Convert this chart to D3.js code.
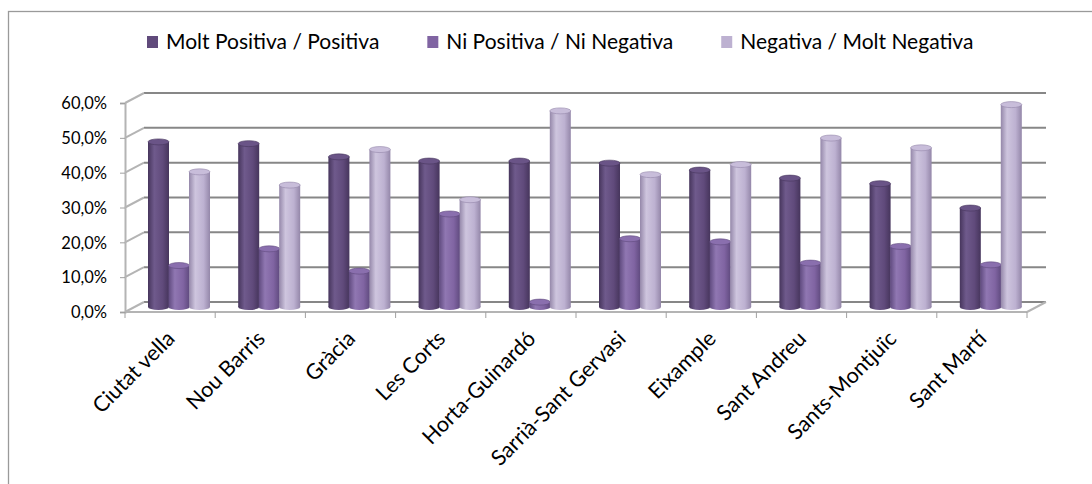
<!DOCTYPE html>
<html lang="ca">
    <head>
        <meta charset="utf-8">
        <style>
            body { margin: 0; background: #fff; }
            text { font-family: Lato, "Noto Sans", sans-serif; fill: #000; }
            .grid { stroke: #878787; stroke-width: 2px; fill: none; }
            .wall { stroke: #b4b4b4; stroke-width: 2px; fill: none; }
        </style>
        <script src="https://d3js.org/d3.v7.min.js"></script>
        <title>Valoracio per districte</title>
    </head>
    <body>
        <div id="chart"></div>
        <script>

            // data (percent)
            var districtes = ["Ciutat vella", "Nou Barris", "Gràcia", "Les Corts", "Horta-Guinardó",
                "Sarrià-Sant Gervasi", "Eixample", "Sant Andreu", "Sants-Montjuïc", "Sant Martí"];
            var series = ["Molt Positiva / Positiva", "Ni Positiva / Ni Negativa", "Negativa / Molt Negativa"];
            var positiva = [47.4, 46.9, 43.1, 41.9, 41.9, 41.3, 39.3, 37.0, 35.4, 28.4];
            var neutra   = [11.9, 16.7, 10.3, 26.7, 1.4, 19.6, 18.7, 12.6, 17.4, 12.1];
            var negativa = [38.8, 35.0, 45.2, 30.8, 56.3, 38.0, 40.9, 48.5, 45.7, 58.1];
            var yTicks = [0, 10, 20, 30, 40, 50, 60];

            var values = [positiva, neutra, negativa];
            var colors = [
                {base: "#604a7b", edge: "#46355c", light: "#6f5a8c", cap: "#6a5487"},
                {base: "#8064a2", edge: "#5f4a7e", light: "#9077b2", cap: "#8a6fae"},
                {base: "#bdb1d1", edge: "#9487a9", light: "#cec5de", cap: "#c8bdda"}
            ];

            var width = 1092, height = 484;
            var left = 125, right = 1027;
            var depthX = 19, depthY = -10;

            var svg = d3.select("#chart")
                .append("svg")
                    .attr("width", width)
                    .attr("height", height);

            // gradients for the cylinders
            var defs = svg.append("defs");
            colors.forEach(function(c, i) {
                var g = defs.append("linearGradient")
                    .attr("id", "cyl" + i)
                    .attr("x1", "0%").attr("x2", "100%")
                    .attr("y1", "0%").attr("y2", "0%");
                g.append("stop").attr("offset", "0%").attr("stop-color", c.edge);
                g.append("stop").attr("offset", "30%").attr("stop-color", c.light);
                g.append("stop").attr("offset", "70%").attr("stop-color", c.base);
                g.append("stop").attr("offset", "100%").attr("stop-color", c.edge);
            });

            // cut-off heading above the frame (only its descender shows)
            svg.append("text")
                .attr("x", 35)
                .attr("y", -4)
                .style("font-size", "20px")
                .text("g");

            // chart frame
            svg.append("rect")
                .attr("x", 8.5)
                .attr("y", 11.5)
                .attr("width", 1200)
                .attr("height", 600)
                .attr("fill", "none")
                .attr("stroke", "#9a9a9a")
                .attr("stroke-width", 1.3);

            var x = d3.scaleBand()
                .domain(districtes)
                .range([left, right]);

            var xSeries = d3.scaleBand()
                .domain(series)
                .range([13.5, 13.5 + 61.5]);

            var y = d3.scaleLinear()
                .domain([0, 60])
                .range([312, 103]);

            // back wall grid lines
            svg.append("g")
                .selectAll("line")
                .data(yTicks)
                .join("line")
                    .attr("class", "grid")
                    .attr("x1", left + depthX)
                    .attr("x2", right + depthX)
                    .attr("y1", function(d) { return y(d) + depthY; })
                    .attr("y2", function(d) { return y(d) + depthY; });

            // side wall diagonals
            svg.append("g")
                .selectAll("line")
                .data(yTicks)
                .join("line")
                    .attr("class", "wall")
                    .attr("x1", left)
                    .attr("x2", left + depthX)
                    .attr("y1", function(d) { return y(d); })
                    .attr("y2", function(d) { return y(d) + depthY; });

            // floor edge on the right
            svg.append("line")
                .attr("class", "wall")
                .attr("x1", right).attr("y1", y(0))
                .attr("x2", right + depthX).attr("y2", y(0) + depthY);

            // y axis
            var yAxis = svg.append("g")
                .attr("transform", "translate(" + left + ",0)")
                .call(d3.axisLeft(y)
                    .tickValues(yTicks)
                    .tickSize(5)
                    .tickPadding(13)
                    .tickFormat(function(d) { return d3.format(".1f")(d).replace(".", ",") + "%"; }));
            yAxis.select(".domain").attr("stroke", "#b4b4b4").attr("stroke-width", 2);
            yAxis.selectAll(".tick line").attr("stroke", "#a0a0a0");
            yAxis.selectAll("text")
                .style("font-size", "16.5px")
                .attr("dy", "0.35em")
                .attr("fill", "#000");

            // x axis
            var xAxis = svg.append("g")
                .attr("transform", "translate(0," + y(0) + ")");
            xAxis.append("line")
                .attr("class", "wall")
                .attr("x1", left).attr("x2", right);
            xAxis.selectAll(".tk")
                .data(d3.range(districtes.length + 1))
                .join("line")
                    .attr("class", "tk")
                    .attr("stroke", "#a0a0a0")
                    .attr("x1", function(i) { return left + i * x.step(); })
                    .attr("x2", function(i) { return left + i * x.step(); })
                    .attr("y1", 0)
                    .attr("y2", 6);
            xAxis.selectAll(".lbl")
                .data(districtes)
                .join("text")
                    .attr("class", "lbl")
                    .attr("text-anchor", "end")
                    .style("font-size", "21.5px")
                    .attr("transform", function(d) {
                        return "translate(" + (x(d) + x.bandwidth() / 2 + 6) + ",28) rotate(-45)";
                    })
                    .text(function(d) { return d; });

            // cylinders
            var ry = 3;
            var barW = 21;
            var bars = svg.append("g")
                .attr("transform", "translate(" + depthX / 2 + "," + depthY / 2 + ")");

            districtes.forEach(function(dist, i) {
                series.forEach(function(s, k) {
                    var v = values[k][i];
                    var bx = x(dist) + xSeries(s);
                    var top = y(v), bottom = y(0);
                    var g = bars.append("g");
                    g.append("ellipse")
                        .attr("cx", bx + barW / 2)
                        .attr("cy", bottom)
                        .attr("rx", barW / 2)
                        .attr("ry", ry)
                        .attr("fill", "url(#cyl" + k + ")");
                    g.append("rect")
                        .attr("x", bx)
                        .attr("y", top)
                        .attr("width", barW)
                        .attr("height", bottom - top)
                        .attr("fill", "url(#cyl" + k + ")");
                    g.append("ellipse")
                        .attr("cx", bx + barW / 2)
                        .attr("cy", top)
                        .attr("rx", barW / 2)
                        .attr("ry", ry)
                        .attr("fill", colors[k].cap)
                        .attr("stroke", colors[k].edge)
                        .attr("stroke-width", 0.6);
                });
            });

            // legend
            var legend = svg.append("g")
                .attr("transform", "translate(147,42)");
            var lx = 0;
            series.forEach(function(s, k) {
                var item = legend.append("g")
                    .attr("transform", "translate(" + lx + ",0)");
                item.append("rect")
                    .attr("x", 0)
                    .attr("y", -6)
                    .attr("width", 11)
                    .attr("height", 12)
                    .attr("fill", colors[k].base);
                var t = item.append("text")
                    .attr("x", 19)
                    .attr("dy", "0.35em")
                    .style("font-size", "21px")
                    .text(s);
                lx += 19 + t.node().getComputedTextLength() + 48;
            });
        </script>
    </body>
</html>
